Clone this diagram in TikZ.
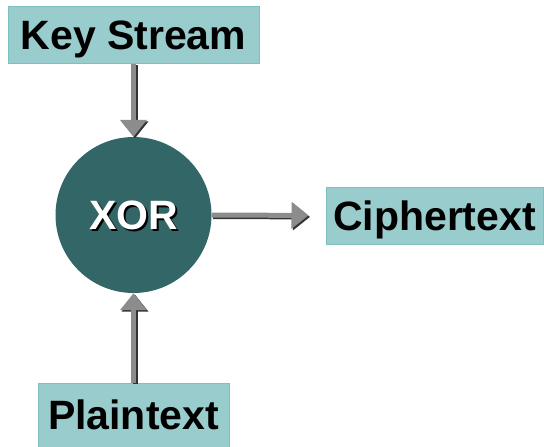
\documentclass[tikz,border=0pt]{standalone}
\usepackage{fontspec}
\setmainfont{Liberation Sans}
\usetikzlibrary{arrows.meta}
\definecolor{boxfill}{HTML}{99CCCC}
\definecolor{boxline}{HTML}{7FBFBF}
\definecolor{xorfill}{HTML}{336666}
\definecolor{arrowgray}{HTML}{8C8C8C}
\definecolor{arrowdark}{HTML}{333333}
\newcommand{\shadowtext}[1]{\makebox[0pt][l]{\hspace{2pt}\raisebox{-2pt}{\textcolor{black}{#1}}}\textcolor{white}{#1}}
\tikzset{
  bigfont/.style={font=\fontsize{41}{44}\selectfont\bfseries, text height=29.4pt, text depth=0pt},
  labelbox/.style={rectangle, fill=boxfill, draw=boxline, line width=1pt, inner sep=0pt, bigfont},
  xornode/.style={circle, fill=xorfill, minimum size=156pt, inner sep=0pt, bigfont},
  flowshadow/.style={draw=arrowdark, line width=5pt, -{Triangle[width=26pt,length=17pt]}, fill=arrowdark},
  flow/.style={draw=arrowgray, line width=5pt, -{Triangle[width=26pt,length=17pt]}, fill=arrowgray},
}
\begin{document}
\begin{tikzpicture}[x=1pt,y=-1pt]
\useasboundingbox (0,0) rectangle (544,447);
\node[labelbox, minimum width=251pt, minimum height=57pt] (key) at (133.5,34.5) {Key Stream};
\node[labelbox, minimum width=191pt, minimum height=64pt] (plain) at (133.5,415) {Plaintext};
\node[labelbox, minimum width=217pt, minimum height=57pt] (cipher) at (434.5,215.5) {Ciphertext};
\node[xornode] (xor) at (133.5,215) {\shadowtext{XOR}};
% shadows
\draw[flowshadow, transform canvas={shift={(1.5pt,-1.5pt)}}] (key.south) -- (xor.north);
\draw[flowshadow, transform canvas={shift={(1.5pt,-1.5pt)}}] (plain.north) -- (xor.south);
\draw[flowshadow, transform canvas={shift={(1.5pt,-1.5pt)}}, shorten >=17pt] (xor.east) -- (cipher.west);
% arrows
\draw[flow] (key.south) -- (xor.north);
\draw[flow] (plain.north) -- (xor.south);
\draw[flow, shorten >=17pt] (xor.east) -- (cipher.west);
\end{tikzpicture}
\end{document}
